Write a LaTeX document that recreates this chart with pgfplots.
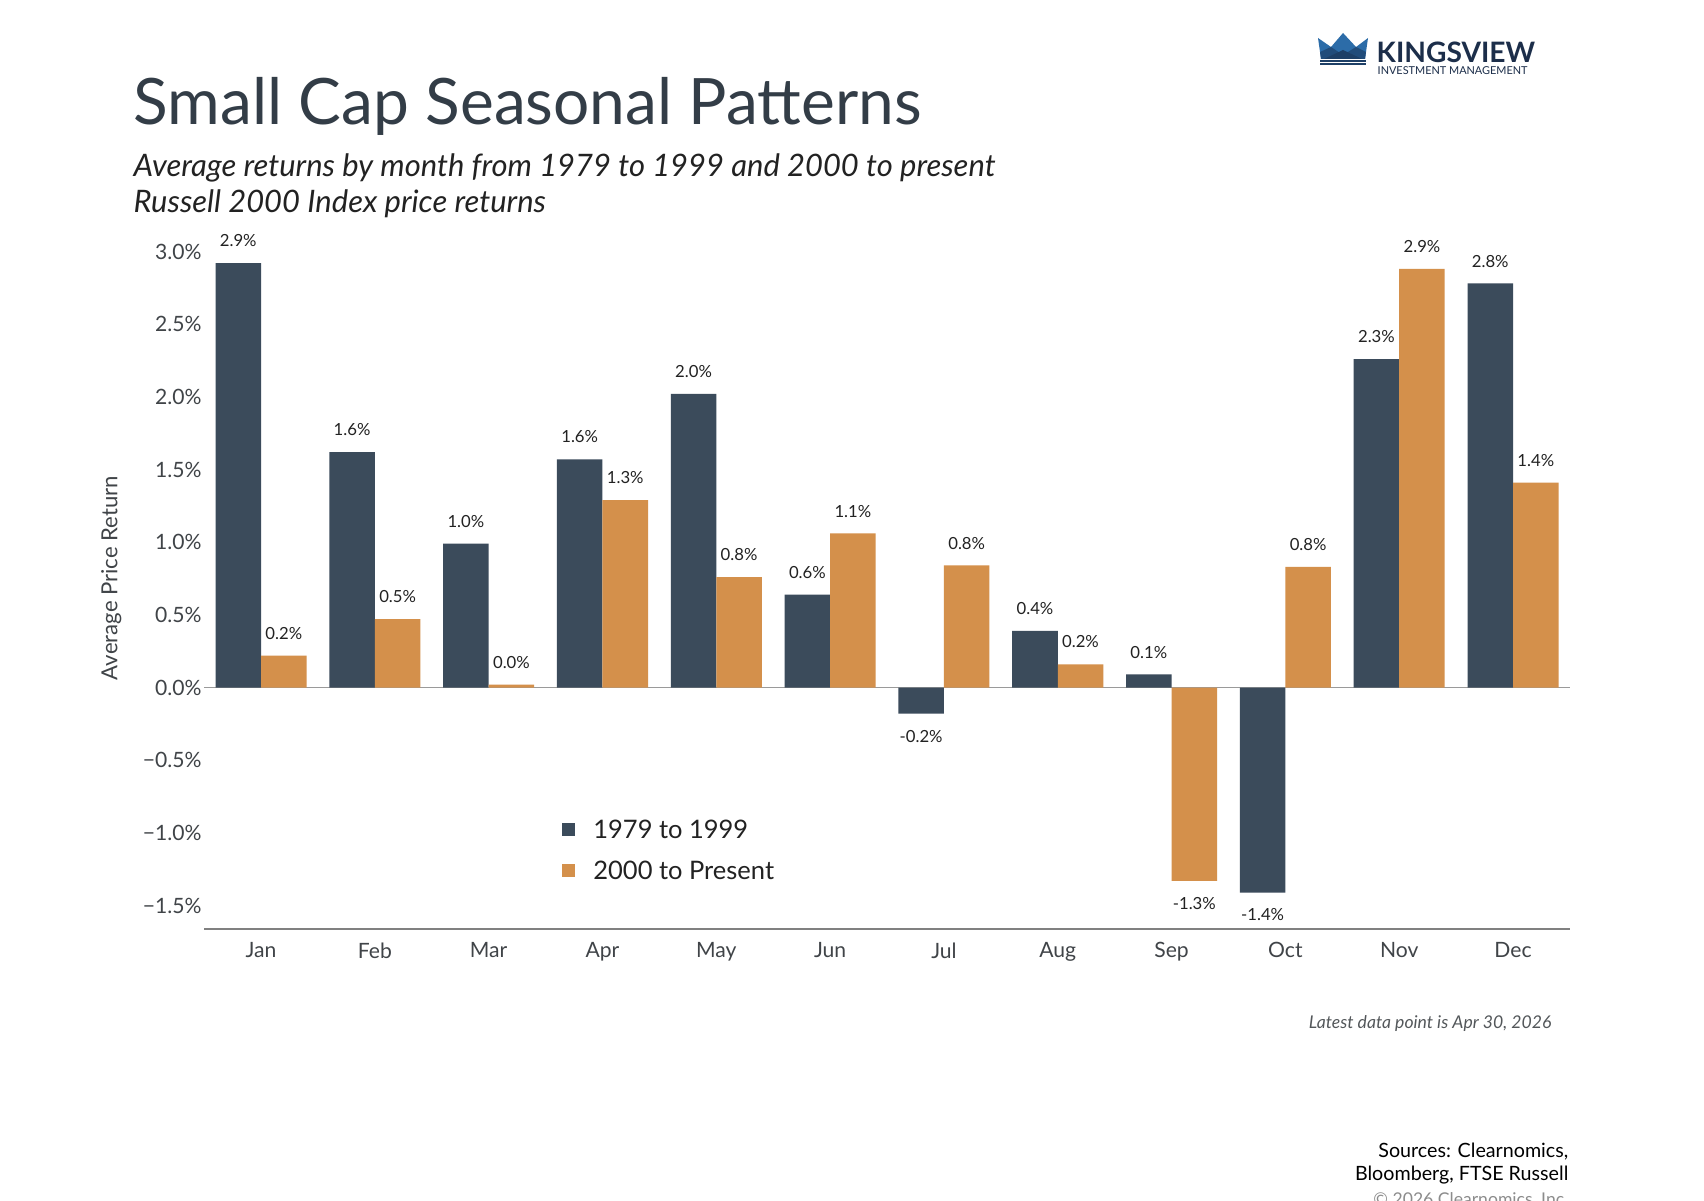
\documentclass[border=0pt]{standalone}
\usepackage{fontspec}
\setmainfont{Lato}
\usepackage{pgfplots}
\usepackage{pgfplotstable}
\pgfplotsset{compat=1.18}
\definecolor{darkbar}{HTML}{3B4B5B}
\definecolor{orangebar}{HTML}{D4904B}
\definecolor{titlecol}{HTML}{333D47}
\definecolor{tickcol}{HTML}{404448}
\definecolor{labelcol}{HTML}{222222}
\definecolor{axisgray}{HTML}{808080}
\definecolor{zerogray}{HTML}{9A9A9A}
\definecolor{logoblue}{HTML}{2C6CA8}
\definecolor{logodark}{HTML}{1D3F66}
\definecolor{logonavy}{HTML}{1C2E4A}

\def\checkneg#1#2\relax{\ifx-#1\pgfkeysalso{/tikz/anchor=north}\else\pgfkeysalso{/tikz/anchor=south}\fi}
\tikzset{signanchor/.code={\edef\tmpmeta{#1}\expandafter\checkneg\tmpmeta\relax\relax}}

\pgfplotstableread{
x a alab b blab
0 2.92 2.9 0.22 0.2
1 1.62 1.6 0.47 0.5
2 0.99 1.0 0.02 0.0
3 1.57 1.6 1.29 1.3
4 2.02 2.0 0.76 0.8
5 0.64 0.6 1.06 1.1
6 -0.18 -0.2 0.84 0.8
7 0.39 0.4 0.16 0.2
8 0.09 0.1 -1.33 -1.3
9 -1.41 -1.4 0.83 0.8
10 2.26 2.3 2.88 2.9
11 2.78 2.8 1.41 1.4
}\datatable

\begin{document}
\begin{tikzpicture}[x=0.01cm,y=0.01cm]
\fill[white] (0,0) rectangle (1704,1200);
\useasboundingbox (0,0) rectangle (1704,1200);

\begin{axis}[
  at={(2.04cm,2.71cm)}, anchor=south west,
  scale only axis, width=13.65cm, height=6.915cm,
  xmin=-0.5, xmax=11.5, ymin=-1.66, ymax=3.1,
  axis x line*=bottom, axis y line*=left,
  x axis line style={draw=axisgray, line width=0.6pt},
  y axis line style={draw=none},
  major tick length=0pt, tick style={draw=none},
  ybar=0pt, bar width=0.4,
  xtick={0,...,11},
  xticklabels={Jan,Feb,Mar,Apr,May,Jun,Jul,Aug,Sep,Oct,Nov,Dec},
  ytick={-1.5,-1,-0.5,0,0.5,1,1.5,2,2.5,3},
  yticklabels={−1.5\%,−1.0\%,−0.5\%,0.0\%,0.5\%,1.0\%,1.5\%,2.0\%,2.5\%,3.0\%},
  xticklabel style={font=\fontsize{6}{7}\selectfont, text=tickcol, inner sep=0pt, anchor=north, yshift=-0.13cm},
  yticklabel style={font=\fontsize{6}{7}\selectfont, text=tickcol, inner sep=0pt, anchor=east, xshift=-0.02cm},
  ylabel={Average Price Return},
  ylabel style={at={(axis description cs:-0.068,0.507)}, anchor=center, font=\fontsize{6.3}{7}\selectfont, text=tickcol},
  clip=false,
  point meta=explicit symbolic,
  nodes near coords={\pgfplotspointmeta\%},
  nodes near coords style={font=\fontsize{4.75}{5.5}\selectfont, text=labelcol, inner xsep=0pt, inner ysep=0.155cm},
  every node near coord/.append style={signanchor=\pgfplotspointmeta},
  legend style={draw=none, fill=none, at={(0.2623,0.156)}, anchor=north west,
    inner sep=0pt, outer sep=0pt, row sep=0.225cm,
    font=\fontsize{7.25}{8}\selectfont, text=labelcol,
    nodes={inner sep=0pt, text height=0.18cm, text depth=0pt},
    /tikz/every odd column/.append style={column sep=0.18cm}},
  legend cell align=left,
]
\draw[zerogray, line width=0.45pt] (axis cs:-0.5,0) -- (axis cs:11.5,0);
\addplot[fill=darkbar, draw=none,
  legend image code/.code={\fill[darkbar] (0cm,-0.065cm) rectangle (0.13cm,0.065cm);}]
  table[x=x, y=a, meta=alab] {\datatable};
\addlegendentry{1979 to 1999}
\addplot[fill=orangebar, draw=none,
  legend image code/.code={\fill[orangebar] (0cm,-0.065cm) rectangle (0.13cm,0.065cm);}]
  table[x=x, y=b, meta=blab] {\datatable};
\addlegendentry{2000 to Present}
\end{axis}

\begin{scope}[shift={(0,1200)}, yscale=-1]
  % logo
  \fill[logoblue] (1318,38) -- (1331,47) -- (1343,33) -- (1356,47) -- (1368,38) -- (1365,59) -- (1321,59) -- cycle;
  \fill[logodark!70!logoblue] (1320,52) -- (1331,47) -- (1343,55) -- (1356,47) -- (1366,52) -- (1365,59) -- (1321,59) -- cycle;
  \fill[logodark] (1324,59) -- (1343,50) -- (1362,59) -- cycle;
  \fill[logodark] (1320,60.5) rectangle (1366,62);
  \fill[logodark] (1320,63.5) rectangle (1366,65);
  \node[anchor=base west, inner sep=0pt, text=logonavy, font=\bfseries\fontsize{8}{9}\selectfont] at (1376,63) {KINGSVIEW};
  \node[anchor=base west, inner sep=0pt, text=logonavy, font=\fontsize{3.1}{3.5}\selectfont] at (1377,75) {INVESTMENT MANAGEMENT};
  % titles
  \node[anchor=base west, inner sep=0pt, text=titlecol, font=\fontsize{18.2}{19}\selectfont] at (133,125) {Small Cap Seasonal Patterns};
  \node[anchor=base west, inner sep=0pt, text=labelcol, font=\itshape\fontsize{8.8}{9.5}\selectfont] at (133,177) {Average returns by month from 1979 to 1999 and 2000 to present};
  \node[anchor=base west, inner sep=0pt, text=labelcol, font=\itshape\fontsize{8.8}{9.5}\selectfont] at (133,213) {Russell 2000 Index price returns};
  % notes
  \node[anchor=base east, inner sep=0pt, text=tickcol!90, font=\itshape\fontsize{5}{6}\selectfont] at (1552,1028) {Latest data point is Apr 30, 2026};
  \node[anchor=base east, inner sep=0pt, text=black, font=\fontsize{5.6}{6.5}\selectfont] at (1569,1157) {Sources: Clearnomics,};
  \node[anchor=base east, inner sep=0pt, text=black, font=\fontsize{5.6}{6.5}\selectfont] at (1569,1180) {Bloomberg, FTSE Russell};
  \node[anchor=base east, inner sep=0pt, text=black!45, font=\fontsize{5}{6}\selectfont] at (1569,1205) {© 2026 Clearnomics, Inc.};
\end{scope}
\end{tikzpicture}
\end{document}
